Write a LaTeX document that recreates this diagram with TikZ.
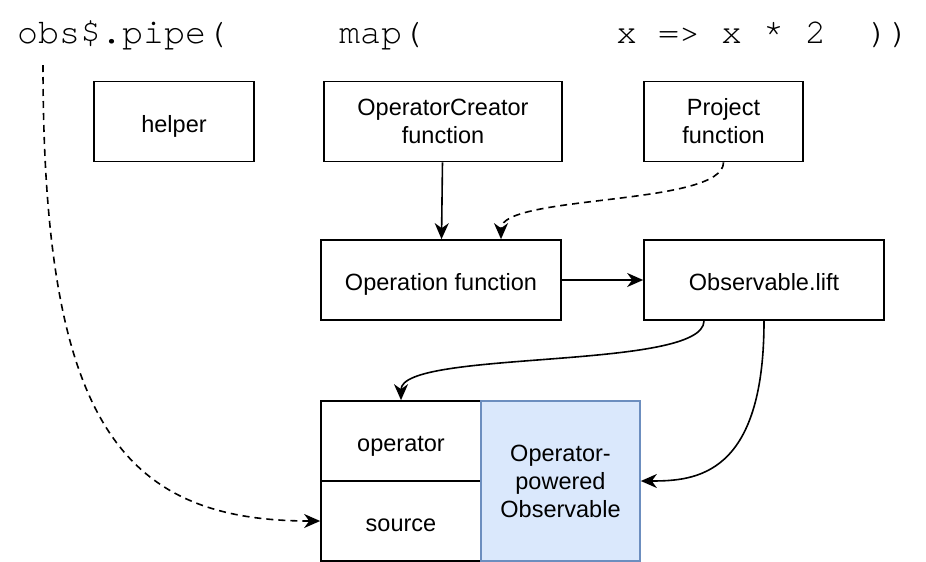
\documentclass[tikz,border=0pt]{standalone}
\usepackage{fontspec}
\setmainfont{Liberation Sans}
\setmonofont{TeX Gyre Cursor}
\usetikzlibrary{arrows.meta}
\definecolor{liftfill}{HTML}{DAE8FC}
\definecolor{liftdraw}{HTML}{6C8EBF}
\begin{document}
\begin{tikzpicture}[x=1pt,y=-1pt,>={Stealth[length=16pt,width=14pt,inset=5pt]},
		box/.style={draw,line width=1.7pt,minimum width=160pt,minimum height=80pt,align=center,inner sep=0pt,font=\fontsize{23.5}{28}\selectfont},
		oneline/.style={text height=21pt,text depth=0pt},
		code/.style={anchor=base west,inner sep=0pt,font=\ttfamily\fontsize{35}{40}\selectfont},
		link/.style={->,line width=1.6pt},
		dlink/.style={link,dash pattern=on 7pt off 5pt}]
	\useasboundingbox (0,0) rectangle (926,562);
	\node[code] (pipe) at (17,43) {obs\$.pipe(};
	\node[code] (map) at (339,43) {map(};
	\node[code] (proj) at (616,43) {x => x * 2\ \ ))};
	\coordinate (obs) at (43,65);
	\node[box,oneline] (helper) at (174,121.5) {helper};
	\node[box,minimum width=238pt] (creator) at (443,121.5) {OperatorCreator\\function};
	\node[box,minimum width=159pt] (project) at (723.5,121.5) {Project\\function};
	\node[box,oneline,minimum width=240pt] (operation) at (441,280) {Operation function};
	\node[box,oneline,minimum width=240pt] (lift) at (764,280) {Observable.lift};
	\node[box,oneline] (operator) at (401,441) {operator};
	\node[box,oneline] (source) at (401,521) {source};
	\node[box,minimum width=159pt,minimum height=160pt,fill=liftfill,draw=liftdraw] (powered) at (560.5,481) {Operator-\\powered\\Observable};
	% connectors
	\draw[link] (creator) -- (operation);
	\draw[dlink] (project.south) .. controls +(0,44) and +(0,-45) .. ([xshift=60pt]operation.north);
	\draw[link] (operation) -- (lift);
	\draw[link] ([xshift=-60pt]lift.south) .. controls +(0,50) and +(0,-51) .. (operator.north);
	\draw[link] (lift.south) .. controls +(0,155) and +(55,0) .. (powered.east);
	\draw[dlink] (obs) .. controls +(0,355) and +(-200,0) .. (source.west);
\end{tikzpicture}
\end{document}
